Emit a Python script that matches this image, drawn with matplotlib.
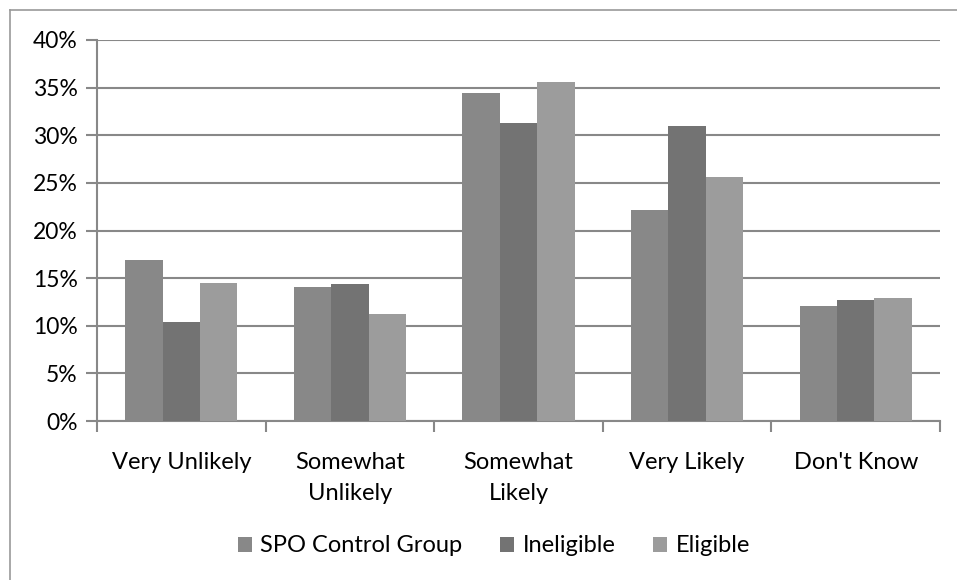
import numpy as np
import matplotlib
matplotlib.use('Agg')
import matplotlib.pyplot as plt
import matplotlib.ticker as mticker
from matplotlib.lines import Line2D

# ---------------------------------------------------------------------------
# Data (percent)
# ---------------------------------------------------------------------------
categories = ['Very Unlikely', 'Somewhat\nUnlikely', 'Somewhat\nLikely',
              'Very Likely', "Don't Know"]
spo_control = [16.9, 14.1, 34.4, 22.2, 12.1]
ineligible  = [10.4, 14.35, 31.3, 31.0, 12.7]
eligible    = [14.5, 11.2, 35.6, 25.6, 12.9]

series_names = ['SPO Control Group', 'Ineligible', 'Eligible']
series_vals = [spo_control, ineligible, eligible]
COLORS = ['#888888', '#737373', '#9c9c9c']

plt.rcParams.update({
    'font.family': ['Lato', 'DejaVu Sans'],
    'font.size': 17,
})

fig = plt.figure(figsize=(9.57, 5.8), dpi=100)
ax = fig.add_axes([97/957, 1 - 421/580, (940-97)/957, (421-40)/580])

x = np.arange(len(categories))
w = 0.222
for i, (name, vals) in enumerate(zip(series_names, series_vals)):
    ax.bar(x + (i - 1) * w, vals, width=w, color=COLORS[i], label=name,
           zorder=3, linewidth=0)

ax.set_xlim(-0.5, len(categories) - 0.5)
ax.set_ylim(0, 40)
ax.yaxis.set_major_locator(mticker.MultipleLocator(5))
ax.yaxis.set_major_formatter(mticker.FuncFormatter(lambda v, p: f'{v:.0f}%'))
ax.grid(axis='y', color='#888888', linewidth=1.5, zorder=0)

ax.set_xticks(np.arange(len(categories) + 1) - 0.5)
ax.set_xticklabels([])
ax.set_xticks(x, minor=True)
ax.set_xticklabels(categories, minor=True, linespacing=1.6)
ax.tick_params(axis='x', which='minor', length=0, pad=22)
ax.tick_params(axis='x', which='major', length=8, width=1.5, color='#888888')
ax.tick_params(axis='y', length=8, width=1.5, color='#888888', pad=6,
               labelsize=16.5)

for side in ['top', 'right']:
    ax.spines[side].set_visible(False)
for side in ['left', 'bottom']:
    ax.spines[side].set_color('#888888')
    ax.spines[side].set_linewidth(1.5)

# outer chart border (left + top visible)
fig.add_artist(Line2D([10/957, 10/957], [0, 1 - 10/580], color='#999999', lw=1.2))
fig.add_artist(Line2D([10/957, 1], [1 - 10/580, 1 - 10/580], color='#999999', lw=1.2))

fig.legend(loc='center', bbox_to_anchor=(0.516, 1 - 546/580), ncol=3,
           frameon=False, handlelength=0.6, handleheight=0.6,
           handletextpad=0.35, columnspacing=1.6)

fig.savefig('out.png', dpi=100)
